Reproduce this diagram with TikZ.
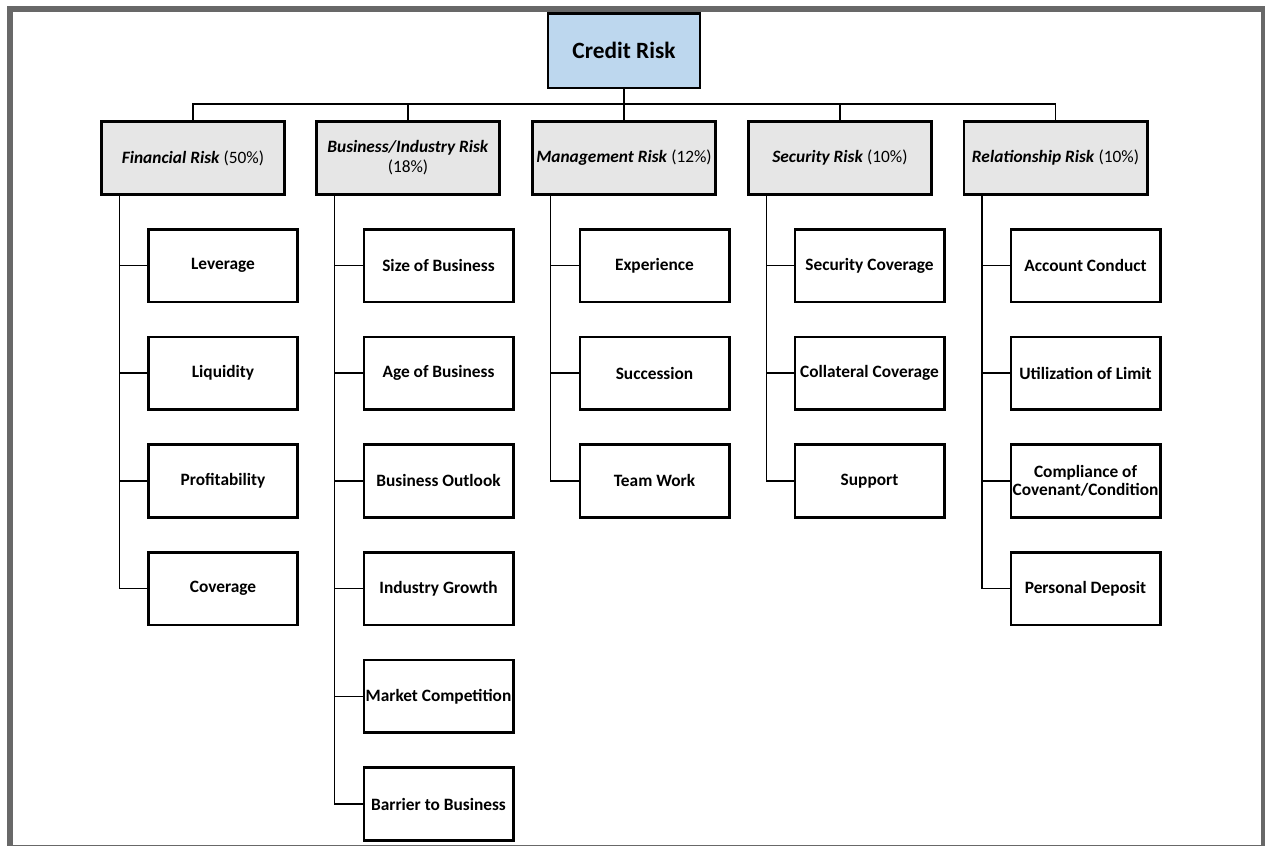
\documentclass[tikz,border=0pt]{standalone}
\usepackage{fontspec}
\setmainfont{Carlito}
\definecolor{rootblue}{HTML}{BDD7EE}
\definecolor{catgray}{HTML}{E6E6E6}
\definecolor{framegray}{HTML}{686868}
\tikzset{
  rootbox/.style={draw,line width=2pt,fill=rootblue,minimum width=114pt,minimum height=56pt,inner sep=0pt,font=\fontsize{17.5}{21}\selectfont\bfseries},
  catbox/.style={draw,line width=2pt,fill=catgray,minimum width=137.5pt,minimum height=55pt,inner sep=0pt,align=center,font=\fontsize{13}{15}\selectfont},
  itembox/.style={draw,line width=2pt,fill=white,minimum width=112pt,minimum height=54.5pt,inner sep=0pt,align=center,font=\fontsize{13}{14}\selectfont\bfseries},
  link/.style={line width=1.2pt}
}
\begin{document}
\begin{tikzpicture}[x=0.75pt,y=-0.75pt]
\useasboundingbox (0,0) rectangle (1265,846);
\draw[framegray,line width=4.5pt] (9.5,846) -- (9.5,9) -- (1263.5,9) -- (1263.5,846);
\draw[framegray,line width=1pt] (12,845.3) -- (1261,845.3);

\node[rootbox] (credit) at (624,50.5) {Credit Risk};
\coordinate (bus) at (624,104);

\node[catbox] (fin) at (193,158) {\textbf{\textit{Financial Risk}} (50\%)};
\node[catbox] (bus1) at (408,158) {\textbf{\textit{Business/Industry Risk}}\\(18\%)};
\node[catbox] (mgt) at (624,158) {\textbf{\textit{Management Risk}} (12\%)};
\node[catbox] (sec) at (840,158) {\textbf{\textit{Security Risk}} (10\%)};
\node[catbox] (rel) at (1055.5,158) {\textbf{\textit{Relationship Risk}} (10\%)};

\node[itembox] (fin1) at (223,265.5) {Leverage};
\node[itembox] (fin2) at (223,373.2) {Liquidity};
\node[itembox] (fin3) at (223,480.9) {Profitability};
\node[itembox] (fin4) at (223,588.6) {Coverage};

\node[itembox] (bus11) at (438.5,265.5) {Size of Business};
\node[itembox] (bus12) at (438.5,373.2) {Age of Business};
\node[itembox] (bus13) at (438.5,480.9) {Business Outlook};
\node[itembox] (bus14) at (438.5,588.6) {Industry Growth};
\node[itembox] (bus15) at (438.5,696.3) {Market Competition};
\node[itembox] (bus16) at (438.5,804) {Barrier to Business};

\node[itembox] (mgt1) at (654.5,265.5) {Experience};
\node[itembox] (mgt2) at (654.5,373.2) {Succession};
\node[itembox] (mgt3) at (654.5,480.9) {Team Work};

\node[itembox] (sec1) at (869.5,265.5) {Security Coverage};
\node[itembox] (sec2) at (869.5,373.2) {Collateral Coverage};
\node[itembox] (sec3) at (869.5,480.9) {Support};

\node[itembox] (rel1) at (1085.5,265.5) {Account Conduct};
\node[itembox] (rel2) at (1085.5,373.2) {Utilization of Limit};
\node[itembox] (rel3) at (1085.5,480.9) {Compliance of\\Covenant/Condition};
\node[itembox] (rel4) at (1085.5,588.6) {Personal Deposit};

\draw[link] (credit) -- (bus);
\draw[link] (fin.north) |- (bus);
\draw[link] (bus1.north) |- (bus);
\draw[link] (mgt.north) -- (bus);
\draw[link] (sec.north) |- (bus);
\draw[link] (rel.north) |- (bus);

\foreach \a/\n in {fin/4,bus1/6,mgt/3,sec/3,rel/4}{
  \foreach \i in {1,...,\n}
    \draw[link] ([xshift=-55pt]\a.south) |- (\a\i.west);
}
\end{tikzpicture}
\end{document}
